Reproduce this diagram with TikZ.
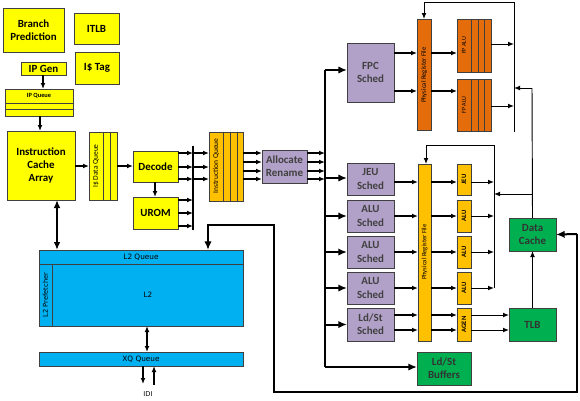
\documentclass[tikz,border=0pt]{standalone}
\usepackage{fontspec}
\setmainfont{Carlito}
\newfontfamily\dvs{DejaVu Sans}
\usetikzlibrary{arrows.meta}
\definecolor{yel}{HTML}{FFFF00}
\definecolor{amb}{HTML}{FFC000}
\definecolor{org}{HTML}{E46C0A}
\definecolor{pur}{HTML}{B1A0C7}
\definecolor{grn}{HTML}{00B050}
\definecolor{blu}{HTML}{00B0F0}
\tikzset{
 box/.style={draw=black!75, line width=0.6pt, inner sep=0pt, outer sep=0pt, align=center, font=\bfseries\fontsize{8.2}{10}\selectfont},
 ybox/.style={box, fill=yel},
 abox/.style={box, fill=amb},
 obox/.style={box, fill=org},
 pbox/.style={box, fill=pur, text=black!75},
 gbox/.style={box, fill=grn, text=black!80},
 bbox/.style={box, fill=blu, font=\dvs\fontsize{5.5}{6.5}\selectfont},
 divl/.style={draw=black!75, line width=0.6pt},
 arr/.style={-{Latex[length=4.5pt,width=3.6pt]}, line width=0.9pt},
 tarr/.style={-{Latex[length=6.5pt,width=5.5pt]}, line width=1.5pt},
 dtarr/.style={{Latex[length=6pt,width=5pt]}-{Latex[length=6pt,width=5pt]}, line width=1.5pt},
 bus/.style={line width=1.6pt},
 fine/.style={line width=0.7pt},
 farr/.style={fine, -{Latex[length=4.5pt,width=3.6pt]}},
 vt/.style={rotate=90, inner sep=0pt, font=\fontsize{5}{6}\selectfont},
 vtb/.style={rotate=90, inner sep=0pt, font=\bfseries\fontsize{5}{6}\selectfont},
 sm/.style={inner sep=0pt, font=\dvs\fontsize{5.5}{6.5}\selectfont},
}
\newcommand\bx[7]{\node[#6, minimum width={(#4-#2)*0.75pt}, minimum height={(#5-#3)*0.75pt}] (#1) at ({(#2+#4)/2},{(#3+#5)/2}) {#7};}
\begin{document}
\begin{tikzpicture}[x=0.75pt,y=-0.75pt]
\fill[white] (0,0) rectangle (580,400);
\useasboundingbox (0,0) rectangle (580,400);

% front end
\bx{bp}{3}{8}{64}{52}{ybox}{Branch\\Prediction}
\bx{itlb}{74}{13}{119}{44}{ybox}{ITLB}
\bx{itag}{75}{52}{119}{84}{ybox}{I\$ Tag}
\bx{ipg}{21}{62}{66}{75}{ybox}{IP Gen}
\bx{ipq}{5}{89}{73}{116}{ybox}{}
\node[inner sep=0pt, font=\bfseries\fontsize{4.8}{6}\selectfont] (ipqt) at (39,96) {IP Queue};
\draw[divl] (ipq.west |- 0,103) -- (ipq.east |- 0,103);
\draw[divl] (ipq.west |- 0,109) -- (ipq.east |- 0,109);
\bx{ica}{7}{131}{75}{200}{ybox}{Instruction\\Cache\\Array}
\bx{idq}{89}{132}{117}{200}{ybox}{}
\draw[divl] (idq.north -| 103,0) -- (idq.south -| 103,0);
\draw[divl] (idq.north -| 110,0) -- (idq.south -| 110,0);
\node[vt, font=\fontsize{5.6}{6}\selectfont] (idqt) at (96,166) {I\$ Data Queue};
\bx{dec}{133}{151}{178}{182}{ybox}{Decode}
\bx{urom}{133}{197}{178}{229}{ybox}{UROM}
\bx{iq}{209}{132}{243}{201}{abox}{}
\draw[divl] (iq.north -| 223,0) -- (iq.south -| 223,0);
\draw[divl] (iq.north -| 230,0) -- (iq.south -| 230,0);
\draw[divl] (iq.north -| 237,0) -- (iq.south -| 237,0);
\node[vt, font=\fontsize{5.6}{6}\selectfont] (iqt) at (216,166) {Instruction Queue};
\bx{alr}{262}{150}{307}{183}{pbox}{Allocate\\Rename}

% front-end arrows
\draw[arr] (ipg.south -| 43,0) -- (ipq.north -| 43,0);
\draw[arr] (ipq.south -| 40,0) -- (ica.north -| 40,0);
\draw[arr] (ica.east |- 0,166) -- (idq.west |- 0,166);
\draw[arr] (idq.east |- 0,166) -- (dec.west |- 0,166);
\draw[arr] (dec.south -| 155,0) -- (urom.north -| 155,0);
\coordinate (b1t) at (193,146);
\coordinate (b1b) at (193,230);
\draw[bus] (b1t) -- (b1b);
\foreach \y in {153,167,179} {
  \draw[arr] (dec.east |- 0,\y) -- (b1t |- 0,\y);
  \draw[arr] (b1t |- 0,\y) -- (iq.west |- 0,\y);
}
\foreach \y in {200,213,226} {
  \draw[arr] (urom.east |- 0,\y) -- (b1t |- 0,\y);
}
\coordinate (b2t) at (325,70);
\coordinate (b2b) at (325,367);
\foreach \y in {153,162,171,179} {
  \draw[arr] (iq.east |- 0,\y) -- (alr.west |- 0,\y);
  \draw[arr] (alr.east |- 0,\y) -- (b2t |- 0,\y);
}

% FP cluster
\bx{fpc}{347}{43}{394}{102}{pbox}{FPC\\Sched}
\bx{fprf}{417}{19}{431}{130}{obox}{}
\node[vt] (fprft) at (424,75) {Physical Register File};
\bx{fpa1}{457}{19}{491}{72}{obox}{}
\bx{fpa2}{457}{79}{491}{131}{obox}{}
\foreach \n in {fpa1,fpa2} {
  \foreach \x in {471,478,484} {\draw[divl] (\n.north -| \x,0) -- (\n.south -| \x,0);}
}
\node[vt, font=\fontsize{4.5}{5}\selectfont] (fpa1t) at (464,45.5) {FP ALU};
\node[vt, font=\fontsize{4.5}{5}\selectfont] (fpa2t) at (464,105) {FP ALU};

% integer cluster
\bx{jeu}{347}{163}{394}{195}{pbox}{JEU\\Sched}
\bx{alu1}{347}{200}{394}{232}{pbox}{ALU\\Sched}
\bx{alu2}{347}{236}{394}{268}{pbox}{ALU\\Sched}
\bx{alu3}{347}{272}{394}{304}{pbox}{ALU\\Sched}
\bx{lds}{347}{308}{394}{341}{pbox}{Ld/St\\Sched}
\bx{iprf}{418}{164}{431}{341}{abox}{}
\node[vt] (iprft) at (424.5,252) {Physical Register File};
\bx{ujeu}{457}{164}{471}{195}{abox}{}
\bx{ualu1}{457}{200}{471}{232}{abox}{}
\bx{ualu2}{457}{236}{471}{268}{abox}{}
\bx{ualu3}{457}{272}{471}{304}{abox}{}
\bx{uagen}{457}{308}{471}{341}{abox}{}
\node[vtb] (ujeut) at (ujeu) {JEU};
\node[vtb] (ualu1t) at (ualu1) {ALU};
\node[vtb] (ualu2t) at (ualu2) {ALU};
\node[vtb] (ualu3t) at (ualu3) {ALU};
\node[vtb] (uagent) at (uagen) {AGEN};
\bx{dc}{509}{218}{556}{251}{gbox}{Data\\Cache}
\bx{tlb}{509}{308}{556}{341}{gbox}{TLB}
\bx{buf}{417}{352}{471}{385}{gbox}{Ld/St\\Buffers}

% dispatch bus
\draw[bus] (b2b) -- (b2t);
\draw[tarr] (b2t) -- (fpc.west |- b2t);
\draw[tarr] (b2t |- 0,178) -- (jeu.west |- 0,178);
\draw[tarr] (b2t |- alu1) -- (alu1.west);
\draw[tarr] (b2t |- alu2) -- (alu2.west);
\draw[tarr] (b2t |- alu3) -- (alu3.west);
\draw[tarr] (b2t |- lds) -- (lds.west);
\draw[tarr] (b2b) -- (buf.west |- b2b);

% FP arrows
\foreach \y in {53,91} {
  \draw[arr] (fpc.east |- 0,\y) -- (fprf.west |- 0,\y);
}
\draw[arr] (fprf.east |- 0,53) -- (fpa1.west |- 0,53);
\draw[arr] (fprf.east |- 0,91) -- (fpa2.west |- 0,91);
\coordinate (fpcb) at (514,132);
\coordinate (fpct) at (514,2);
\coordinate (fpcl) at (424,2);
\draw[fine] (fpcb) -- (fpct) -- (fpcl);
\draw[farr] (fpcl) -- (fprf.north -| fpcl);
\draw[farr] (fpa1.east |- 0,44) -- (fpct |- 0,44);
\draw[farr] (fpa2.east |- 0,106) -- (fpct |- 0,106);

% integer arrows
\foreach \n/\y in {jeu/182,alu1/216,alu2/252,alu3/288} {
  \draw[arr] (\n.east |- 0,\y) -- (iprf.west |- 0,\y);
}
\draw[arr] (lds.east |- 0,315) -- (iprf.west |- 0,315);
\draw[arr] (lds.east |- 0,330) -- (iprf.west |- 0,330);
\draw[arr] (iprf.east |- 0,182) -- (ujeu.west |- 0,182);
\draw[arr] (iprf.east |- ualu1) -- (ualu1.west);
\draw[arr] (iprf.east |- ualu2) -- (ualu2.west);
\draw[arr] (iprf.east |- ualu3) -- (ualu3.west);
\draw[arr] (iprf.east |- 0,315) -- (uagen.west |- 0,315);
\draw[arr] (iprf.east |- 0,330) -- (uagen.west |- 0,330);
\coordinate (icb) at (494,288);
\coordinate (ict) at (494,145);
\coordinate (icl) at (426,145);
\draw[fine] (icb) -- (ict) -- (icl);
\draw[farr] (icl) -- (iprf.north -| icl);
\draw[farr] (ujeu.east |- 0,182) -- (ict |- 0,182);
\draw[farr] (ualu1.east) -- (ict |- ualu1);
\draw[farr] (ualu2.east) -- (ict |- ualu2);
\draw[farr] (ualu3.east) -- (ict |- ualu3);
\draw[farr] (uagen.east |- 0,315) -- (tlb.west |- 0,315);
\draw[farr] (uagen.east |- 0,330) -- (tlb.west |- 0,330);
\draw[farr] (tlb.north) -- (dc.south);
\coordinate (dct) at (532,88);
\draw[fine] (dc.north) -- (dct);
\draw[farr] (dct) -- (fpct |- dct);
\draw[farr] (dct |- 0,194) -- (ict |- 0,194);

% memory
\bx{l2}{39}{250}{243}{326}{bbox}{}
\draw[divl] (l2.west |- 0,264) -- (l2.east |- 0,264);
\draw[divl] (52,264) -- (l2.south -| 52,0);
\node[sm] (l2qt) at (141,257) {L2 Queue};
\node[sm] (l2t) at (148,295) {L2};
\node[sm, rotate=90, font=\dvs\fontsize{5}{6}\selectfont] (l2pt) at (45.5,295) {L2 Prefetcher};
\bx{xq}{39}{352}{243}{366}{bbox}{XQ Queue}
\node[sm, font=\dvs\fontsize{5}{6}\selectfont] (idi) at (148,394) {IDI};
\draw[dtarr] (ica.south -| 57,0) -- (l2.north -| 57,0);
\draw[{Latex[length=4.5pt,width=3.6pt]}-{Latex[length=4.5pt,width=3.6pt]}, line width=0.9pt] (l2.south -| 147,0) -- (xq.north -| 147,0);
\draw[arr] (xq.south -| 143,0) -- (143,384);
\draw[arr] (154,385) -- (xq.south -| 154,0);

% return loop
\coordinate (lp1) at (577,234);
\coordinate (lp2) at (577,392);
\coordinate (lp3) at (274,392);
\coordinate (lp4) at (274,225);
\coordinate (lp5) at (208,225);
\draw[bus] (lp1) -- (lp2) -- (lp3) -- (lp4) -- (lp5) -- (208,243);
\draw[tarr] (lp1) -- (dc.east);
\draw[tarr] (208,240) -- (l2.north -| 208,0);
\end{tikzpicture}
\end{document}
